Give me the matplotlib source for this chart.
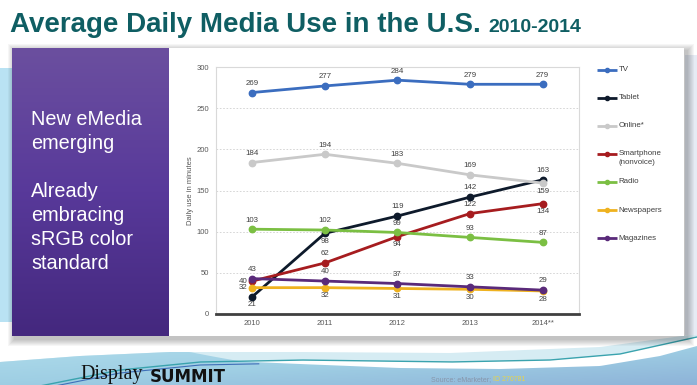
import numpy as np
import matplotlib
matplotlib.use('Agg')
import matplotlib.pyplot as plt
from matplotlib.patches import Rectangle, Polygon
from matplotlib.colors import LinearSegmentedColormap

# ---------------- data ----------------
years = ['2010', '2011', '2012', '2013', '2014**']
series_names = ['TV', 'Tablet', 'Online*', 'Smartphone\n(nonvoice)', 'Radio', 'Newspapers', 'Magazines']
tv = [269, 277, 284, 279, 279]
tablet = [21, 98, 119, 142, 163]
online = [184, 194, 183, 169, 159]
smartphone = [40, 62, 94, 122, 134]
radio = [103, 102, 99, 93, 87]
newspapers = [32, 32, 31, 30, 28]
magazines = [43, 40, 37, 33, 29]
y_ticks = [0, 50, 100, 150, 200, 250, 300]

title = 'Average Daily Media Use in the U.S.'
subtitle = '2010-2014'
side_lines = ['New eMedia', 'emerging', '', 'Already', 'embracing', 'sRGB color', 'standard']
y_label = 'Daily use in minutes'
source_prefix = 'Source: eMarketer; '
source_id = 'ID 270781'
brand_a = 'Display'
brand_b = 'SUMMIT'

# ---------------- styles ----------------
series_values = [tv, tablet, online, smartphone, radio, newspapers, magazines]
colors = ['#3b6dbf', '#0e1a2b', '#c9c9c9', '#a61c1f', '#7bbf43', '#efb21f', '#5a2a7a']
label_pos = ['aaaaa', 'bbaaa', 'aaaab', 'labab', 'aaaaa', 'lbbbb', 'aaaaa']

plt.rcParams['font.family'] = ['Liberation Sans', 'DejaVu Sans']

W, H = 697, 385
fig = plt.figure(figsize=(W / 100, H / 100), dpi=100)
fig.patch.set_facecolor('white')
bg = fig.add_axes([0, 0, 1, 1])
bg.axis('off')

# ---- footer background ----
xs = np.linspace(0, W, 300)
U = np.interp(xs, [0, 80, 170, 300, 450, 600, 697], [362, 356, 352, 352, 353, 347, 334])
T = np.interp(xs, [40, 120, 200, 300, 450, 550, 620, 697], [386, 370, 362, 360, 362, 360, 354, 337])
Wsw = np.interp(xs, [230, 300, 400, 500, 600, 660, 697], [361, 364, 368, 369, 366, 356, 346])
blend = np.clip((xs - 190) / 50, 0, 1)
MainTop = (1 - blend) * U + blend * T
band = Polygon(np.column_stack([np.r_[xs, xs[::-1]], np.r_[U, np.full_like(xs, H + 2)]]),
               closed=True, fc='#d6ecf3', ec='none', zorder=1)
bg.add_patch(band)
main_poly = Polygon(np.column_stack([np.r_[xs, xs[::-1]], np.r_[MainTop, np.full_like(xs, H + 2)]]),
                    closed=True, fc='none', ec='none')
bg.add_patch(main_poly)
cmap_f = LinearSegmentedColormap.from_list('f', ['#b0ddec', '#9fcfe4', '#8db2d8'])
gx = np.linspace(0, 1, 100)
gy = np.linspace(0, 1, 40)
grad = (0.55 * gy[:, None] + 0.45 * gx[None, :])
im = bg.imshow(grad, extent=[0, W, H + 2, 340], cmap=cmap_f, aspect='auto', zorder=2)
im.set_clip_path(main_poly)
msk = xs >= 230
sw = Polygon(np.column_stack([np.r_[xs[msk], xs[msk][::-1]], np.r_[T[msk], Wsw[msk][::-1]]]),
             closed=True, fc='white', ec='none', zorder=3)
bg.add_patch(sw)
bg.plot(xs, T, color='#3aa3ae', lw=1.0, zorder=4)
bg.plot(xs[xs < 260], T[xs < 260] + 3, color='#3f6fb8', lw=0.8, zorder=4)

# side strips
bg.add_patch(Rectangle((0, 68), 12, 254, fc='#b9e2f3', ec='none', zorder=1))
bg.add_patch(Rectangle((685, 55), 12, 280, fc='#e6ebf4', ec='none', zorder=1))

# ---- panel with shadow ----
px0, py0, px1, py1 = 12, 48, 684, 336
for k in range(1, 8):
    bg.add_patch(Rectangle((px0 - k + 2.5, py0 - k + 3), (px1 - px0) + 2 * k, (py1 - py0) + 2 * k,
                           fc='black', alpha=0.035, ec='none', zorder=5))
bg.add_patch(Rectangle((px0, py0), px1 - px0, py1 - py0, fc='white', ec='none', zorder=6))
cmap_p = LinearSegmentedColormap.from_list('p', ['#6b4f9f', '#58399a', '#44287e'])
bg.imshow(np.linspace(0, 1, 100)[:, None], extent=[12, 169, 336, 48], cmap=cmap_p, aspect='auto', zorder=7)

for k, line in enumerate(side_lines):
    if line:
        bg.text(31, 125 + k * 24, line, fontsize=14.3, color='white', va='baseline', ha='left', zorder=8)

# ---- title ----
t = bg.text(10, 32, title, fontsize=20, fontweight='bold', color='#0f5e63', va='baseline', ha='left', zorder=8)

# ---- footer text ----
bg.text(80, 379, brand_a, fontsize=14.5, family=['Liberation Serif', 'DejaVu Serif'], color='#111111',
        va='baseline', zorder=8)
bg.text(150, 382, brand_b, fontsize=12, family=['DejaVu Sans'], fontweight='bold', color='#111111',
        va='baseline', zorder=8)
s1 = bg.text(431, 381, source_prefix, fontsize=5, color='#8796ab', va='baseline', zorder=8)

# y label & legend
bg.text(190, 190.5, y_label, rotation=90, fontsize=5.5, color='#595959', ha='center', va='center', zorder=8)
for i, (name, col) in enumerate(zip(series_names, colors)):
    yy = 69.5 + i * 28.1
    bg.plot([597, 617], [yy, yy], color=col, lw=2.0, solid_capstyle='butt', zorder=8)
    bg.plot([607], [yy], marker='o', ms=3, color=col, zorder=8)
    for j, part in enumerate(name.split('\n')):
        bg.text(618.5, yy + j * 9, part, fontsize=5.7, color='#404040', va='center', ha='left', zorder=8)

bg.set_xlim(0, W)
bg.set_ylim(H, 0)

# ---- chart ----
ax = fig.add_axes([216 / W, (H - 314) / H, 363 / W, 247 / H])
ax.set_facecolor('none')
ax.set_zorder(10)
x = np.arange(len(years))
for vals, col, pos in zip(series_values, colors, label_pos):
    ax.plot(x, vals, color=col, lw=2.0, marker='o', ms=4.6, solid_capstyle='round', zorder=3)
    for i, v in enumerate(vals):
        p = pos[i]
        if p == 'a':
            kw = dict(xytext=(0, 6.6), ha='center', va='center')
        elif p == 'b':
            kw = dict(xytext=(0, -5.8), ha='center', va='center')
        else:
            kw = dict(xytext=(-3.6, 0), ha='right', va='center')
        ax.annotate(str(v), (i, v), textcoords='offset points', fontsize=5.7, color='#404040', **kw)

ax.set_xlim(-0.5, 4.5)
ax.set_ylim(0, 300)
ax.set_yticks(y_ticks)
ax.set_xticks(x)
ax.set_xticklabels(years)
ax.yaxis.grid(True, linestyle=(0, (2, 2)), color='#d0d0d0', lw=0.6)
ax.set_axisbelow(True)
ax.tick_params(axis='both', length=0, labelsize=5.5, labelcolor='#595959')
ax.tick_params(axis='y', pad=5)
ax.tick_params(axis='x', pad=4)
for s in ['left', 'top', 'right']:
    ax.spines[s].set_color('#d9d9d9')
    ax.spines[s].set_linewidth(0.8)
ax.spines['bottom'].set_color('#404040')
ax.spines['bottom'].set_linewidth(2.0)

fig.canvas.draw()
r = fig.canvas.get_renderer()
bb = t.get_window_extent(r)
bg.text(bb.x1 + 8, 32, subtitle, fontsize=14, fontweight='bold', color='#0f5e63', va='baseline', ha='left', zorder=8)
bb2 = s1.get_window_extent(r)
bg.text(bb2.x1, 381, source_id, fontsize=5, color='#e6d44a', va='baseline', zorder=8)

fig.savefig('out.png', dpi=100)
